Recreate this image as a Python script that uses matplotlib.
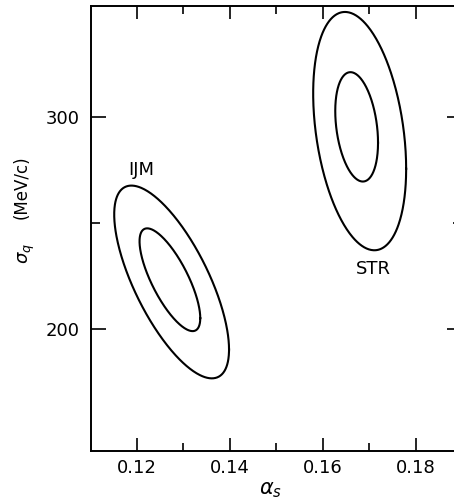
import numpy as np
import matplotlib
matplotlib.use('Agg')
import matplotlib.pyplot as plt
from matplotlib.ticker import FixedLocator

# contour ellipses:
# centre (x, y), half width in alpha_s, half height in sigma_q,
# and the alpha_s value where each contour reaches its top
contour_names = ['IJM outer', 'IJM inner', 'STR outer', 'STR inner']
center_x = [0.12745, 0.12708, 0.1679, 0.16725]
center_y = [222.3, 223.35, 293.2, 295.2]
half_x = [0.01235, 0.00653, 0.0100, 0.0046]
half_y = [45.3, 24.15, 56.0, 25.7]
top_x = [0.1188, 0.1222, 0.16474, 0.16592]

# labels of the two models
model_labels = ['IJM', 'STR']
label_x = [0.1209, 0.1708]
label_y = [275, 228.5]

x_ticks = [0.12, 0.14, 0.16, 0.18]
x_tick_labels = ['0.12', '0.14', '0.16', '0.18']
x_minor = [0.13, 0.15, 0.17]
y_ticks = [200, 300]
y_tick_labels = ['200', '300']
y_minor = [250]

W, H = 454, 504
fig = plt.figure(figsize=(W / 100, H / 100), dpi=100)
ax = fig.add_axes([90.5 / W, 1 - 450.7 / H, (462.4 - 90.5) / W, (450.7 - 6) / H])

t = np.linspace(0, 2 * np.pi, 500)
for i in range(len(contour_names)):
    # tilt: the top of the ellipse sits at top_x
    phi = np.arccos((top_x[i] - center_x[i]) / half_x[i])
    xs = center_x[i] + half_x[i] * np.cos(t)
    ys = center_y[i] + half_y[i] * np.cos(t - phi)
    ax.plot(xs, ys, color='black', lw=1.5)

for i in range(len(model_labels)):
    ax.text(label_x[i], label_y[i], model_labels[i], ha='center', va='center',
            fontsize=13)

ax.set_xlim(0.11, 0.19)
ax.set_ylim(143, 352)
ax.set_xticks(x_ticks)
ax.set_xticklabels(x_tick_labels, fontsize=13)
ax.set_yticks(y_ticks)
ax.set_yticklabels(y_tick_labels, fontsize=13)
ax.xaxis.set_minor_locator(FixedLocator(x_minor))
ax.yaxis.set_minor_locator(FixedLocator(y_minor))

ax.tick_params(axis='x', which='major', direction='in', top=True, length=9.5, width=1.2, pad=6)
ax.tick_params(axis='x', which='minor', direction='in', top=True, length=5.5, width=1.2)
ax.tick_params(axis='y', which='major', direction='in', right=True, length=11, width=1.2, pad=8)
ax.tick_params(axis='y', which='minor', direction='in', right=True, length=6.5, width=1.2)
for s in ax.spines.values():
    s.set_linewidth(1.4)

# axis titles
fig.text(271 / W, 1 - 490 / H, r'$\alpha_s$', ha='center', va='center', fontsize=15)
fig.text(27 / W, 1 - 254 / H, r'$\sigma_q$', ha='center', va='center', fontsize=13,
         rotation=90)
fig.text(22 / W, 1 - 187.5 / H, '(MeV/c)', ha='center', va='center', fontsize=12,
         rotation=90)

fig.savefig('out.png', dpi=100)
